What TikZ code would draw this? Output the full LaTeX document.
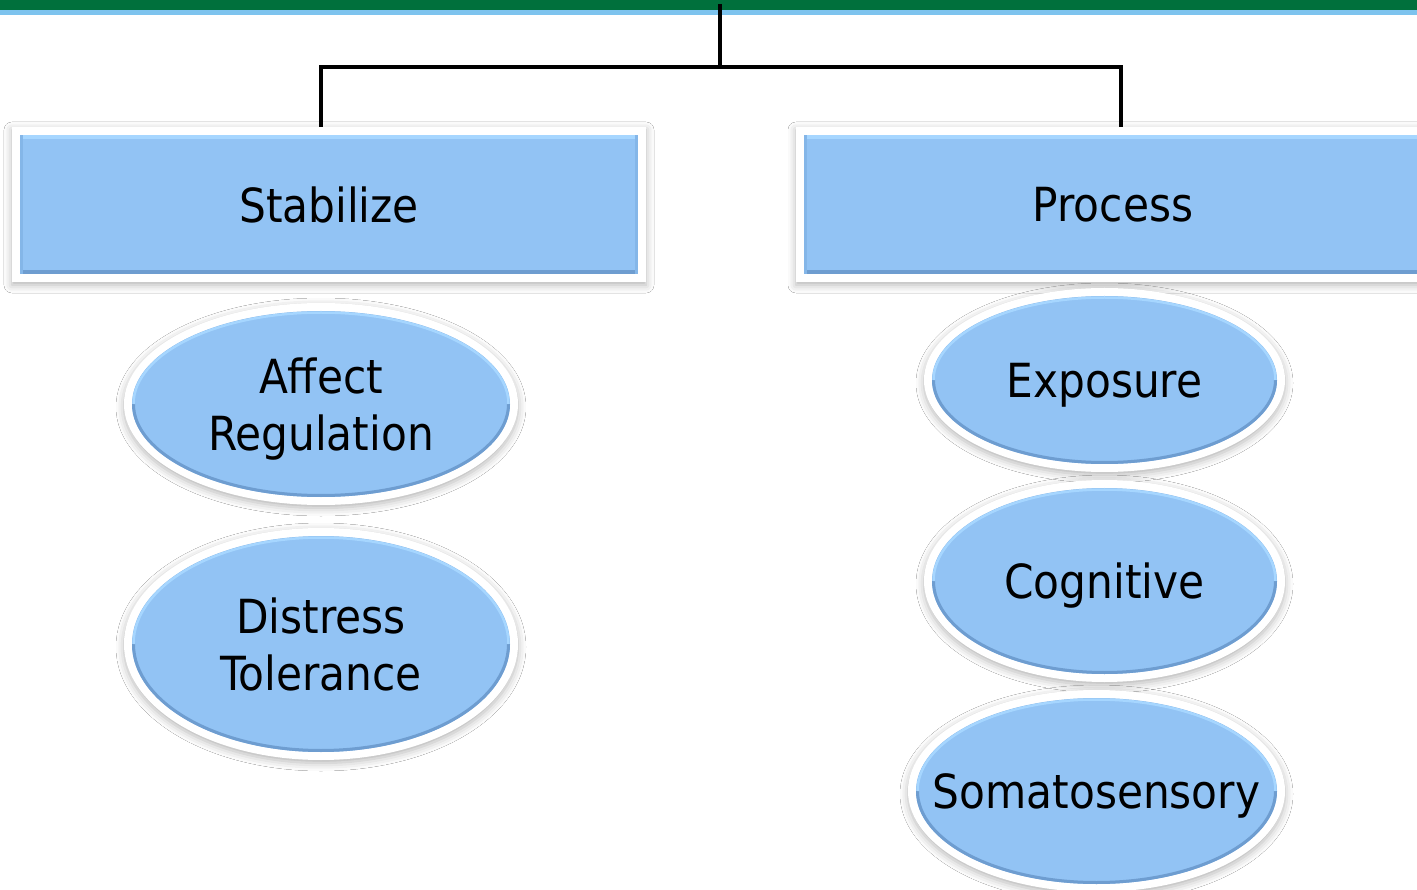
\documentclass[tikz,border=0pt]{standalone}
\usepackage{fontspec}
\setmainfont{DejaVu Sans Condensed}
\usetikzlibrary{shapes.geometric,shadows.blur}
\definecolor{bargreen}{HTML}{00703C}
\definecolor{barblue}{HTML}{7DC3EE}
\definecolor{boxfill}{HTML}{92C3F4}
\definecolor{boxedge}{HTML}{84B6E8}
\definecolor{boxdark}{HTML}{6E9DD0}
\definecolor{boxlight}{HTML}{A6D6FF}
\tikzset{
  soft/.style={blur shadow={shadow xshift=0pt, shadow yshift=-3pt, shadow blur radius=8pt, shadow opacity=30}},
  txt/.style={font=\fontsize{47}{57}\selectfont, text=black, align=center, inner sep=0pt, text depth=0pt},
  boxnode/.style 2 args={rectangle, fill=white, soft, txt, minimum width=#1, minimum height=#2,
    path picture={
      \fill[boxfill]
        ([shift={(8pt,-8pt)}]path picture bounding box.north west) rectangle
        ([shift={(-8pt,8pt)}]path picture bounding box.south east);
      \fill[boxlight]
        ([shift={(8pt,-8pt)}]path picture bounding box.north west) rectangle
        ([shift={(-8pt,-12pt)}]path picture bounding box.north east);
      \fill[boxdark]
        ([shift={(8pt,12pt)}]path picture bounding box.south west) rectangle
        ([shift={(-8pt,8pt)}]path picture bounding box.south east);
      \fill[boxedge]
        ([shift={(8pt,-8pt)}]path picture bounding box.north west) rectangle
        ([shift={(11pt,8pt)}]path picture bounding box.south west);
      \fill[boxedge]
        ([shift={(-11pt,-8pt)}]path picture bounding box.north east) rectangle
        ([shift={(-8pt,8pt)}]path picture bounding box.south east);
    }},
  ellnode/.style 2 args={ellipse, fill=white, soft, txt, inner xsep=-80pt, minimum width=#1, minimum height=#2,
    path picture={
      \fill[boxfill, draw=boxedge, line width=2pt]
        (path picture bounding box.center) ellipse [x radius=#1/2-9pt, y radius=#2/2-9pt];
      \draw[boxdark, line width=3pt]
        ([xshift=-#1/2+9.5pt]path picture bounding box.center)
        arc [start angle=180, end angle=360, x radius=#1/2-9.5pt, y radius=#2/2-9.5pt];
      \draw[boxlight, line width=2.5pt]
        ([xshift=-#1/2+9.5pt]path picture bounding box.center)
        arc [start angle=180, end angle=0, x radius=#1/2-9.5pt, y radius=#2/2-9.5pt];
    }},
  link/.style={line width=4pt, black}
}
\begin{document}
\begin{tikzpicture}[x=1pt, y=-1pt]
\clip (0,0) rectangle (1417,890);
\fill[white] (0,0) rectangle (1417,890);
\fill[bargreen] (0,0) rectangle (1417,10);
\fill[barblue] (0,10) rectangle (1417,15);
\coordinate (top) at (720,4);
\coordinate (mid) at (720,67);
\node[boxnode={634pt}{155pt}] (stab) at (329,204.5) {Stabilize};
\node[boxnode={634pt}{155pt}] (proc) at (1113,204.5) {Process};
\draw[link] (top) -- (mid);
\draw[link] (mid) -| ([xshift=-8pt]stab.north);
\draw[link] (mid) -| ([xshift=8pt]proc.north);
\node[ellnode={394pt}{202pt}] (aff) at (321,404) {Affect\\Regulation};
\node[ellnode={394pt}{232pt}] (dis) at (321,644) {Distress\\Tolerance};
\node[ellnode={361pt}{184pt}] (exp) at (1104.5,380) {Exposure};
\node[ellnode={361pt}{202pt}] (cog) at (1104.5,581) {Cognitive};
\node[ellnode={377pt}{202pt}] (som) at (1096.5,791) {Somatosensory};
\end{tikzpicture}
\end{document}
